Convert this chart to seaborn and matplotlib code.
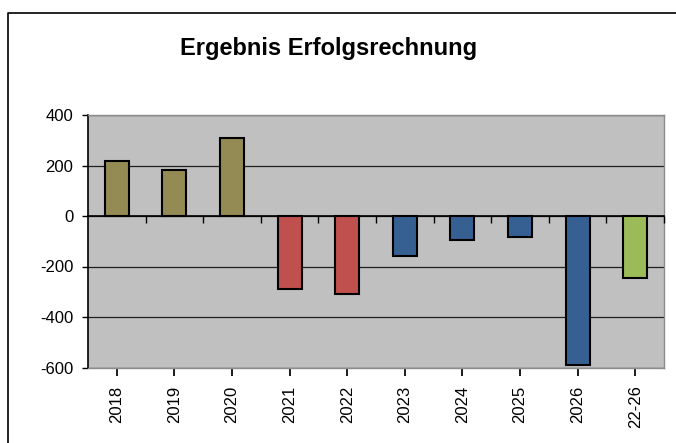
import seaborn as sns
import matplotlib.pyplot as plt
from matplotlib.lines import Line2D

categories = ['2018', '2019', '2020', '2021', '2022', '2023', '2024', '2025', '2026', '22-26']
values = [217, 184, 310, -288, -310, -158, -96, -84, -589, -247]
bar_colors = ['#948A54', '#948A54', '#948A54', '#C0504D', '#C0504D',
              '#366092', '#366092', '#366092', '#366092', '#9BBB59']
y_ticks = [-600, -400, -200, 0, 200, 400]

sns.set_theme(style="white")
plt.rcParams['font.family'] = ['Liberation Sans', 'DejaVu Sans']
plt.rcParams['text.color'] = 'black'
plt.rcParams['xtick.color'] = 'black'
plt.rcParams['ytick.color'] = 'black'

fig = plt.figure(figsize=(6.76, 4.43), dpi=100)
ax = fig.add_axes([88 / 676, 1 - 367.5 / 443, (664 - 88) / 676, (367.5 - 115) / 443])
ax.set_facecolor('#C0C0C0')

sns.barplot(x=categories, y=values, hue=categories, palette=bar_colors, legend=False,
            saturation=1, width=0.42, edgecolor='black', linewidth=1.5, ax=ax, zorder=3)

ax.set_ylim(-600, 400)
ax.set_xlim(-0.5, len(categories) - 0.5)
ax.set_yticks(y_ticks)
ax.set_yticklabels([str(v) for v in y_ticks], fontsize=12)
ax.yaxis.grid(True, color='#202020', linewidth=0.9)
ax.set_axisbelow(True)
ax.tick_params(axis='y', left=True, length=4.5, width=1, color='black', pad=6)
ax.tick_params(axis='x', bottom=False, labelsize=12, rotation=90, pad=7)
ax.set_xlabel('')
ax.set_ylabel('')

for side in ['top', 'right', 'bottom']:
    ax.spines[side].set_color('#8C8C8C')
    ax.spines[side].set_linewidth(1)
ax.spines['left'].set_color('black')
ax.spines['left'].set_linewidth(1.2)

# zero axis with tick marks between categories
ax2 = ax.twiny()
ax2.set_xlim(ax.get_xlim())
ax2.xaxis.set_ticks_position('bottom')
ax2.spines['bottom'].set_position(('data', 0))
ax2.spines['bottom'].set_color('black')
ax2.spines['bottom'].set_linewidth(1.2)
for side in ['top', 'right', 'left']:
    ax2.spines[side].set_visible(False)
ax2.set_xticks([i + 0.5 for i in range(len(categories))])
ax2.tick_params(axis='x', direction='out', length=5, width=1, color='black', labelbottom=False, labeltop=False)

fig.text(328.5 / 676, 1 - 49 / 443, 'Ergebnis Erfolgsrechnung', ha='center', va='center',
         fontsize=17, fontweight='bold')

# chart frame: only top and left edges show in the crop
fig.add_artist(Line2D([8 / 676, 8 / 676, 1], [0, 1 - 13 / 443, 1 - 13 / 443],
                      transform=fig.transFigure, color='black', linewidth=1.2))

plt.savefig('out.png', dpi=100)
